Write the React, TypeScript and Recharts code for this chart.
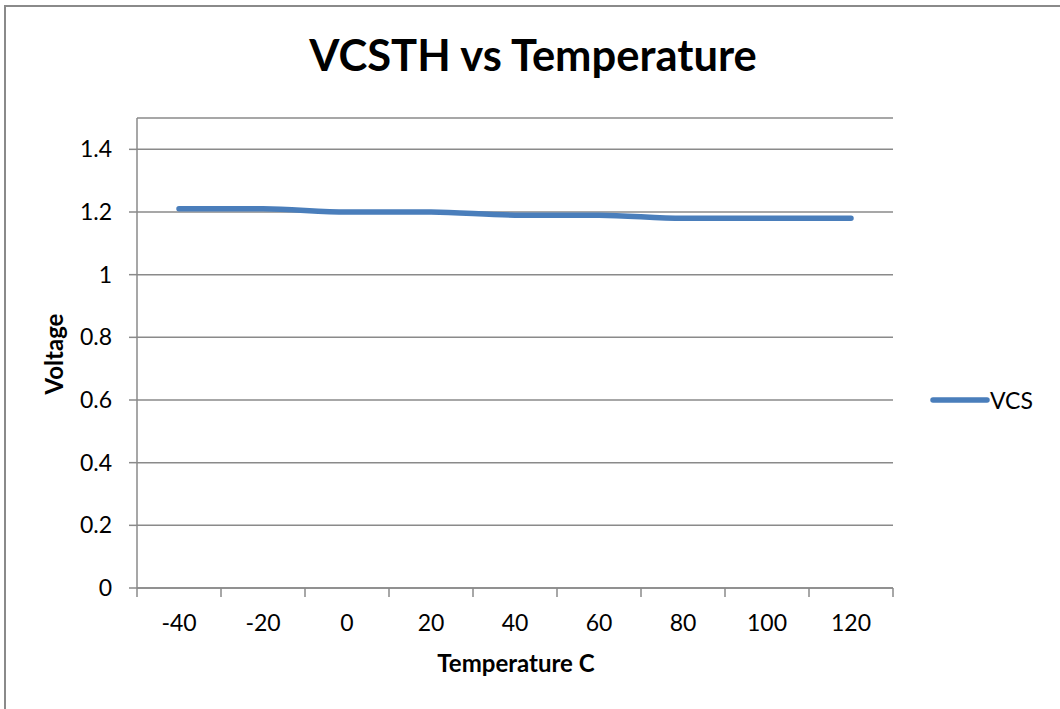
import React from 'react';
import { LineChart, Line, XAxis, YAxis, CartesianGrid, Legend } from 'recharts';

// Temperatura (°C) e tensão VCSTH
const temperatures = [-40, -20, 0, 20, 40, 60, 80, 100, 120];
const vcsValues = [1.21, 1.21, 1.2, 1.2, 1.19, 1.19, 1.18, 1.18, 1.18];
const yTicks = [0, 0.2, 0.4, 0.6, 0.8, 1, 1.2, 1.4];
// limites das categorias (marcas do eixo X ficam entre os rótulos)
const xBoundaries = [-50, -30, -10, 10, 30, 50, 70, 90, 110, 130];

const data = temperatures.map((t, i) => ({ temp: t, vcs: vcsValues[i] }));
const xTicks = [...xBoundaries, ...temperatures].sort((a, b) => a - b);

const FONT = 'Lato, "Open Sans", sans-serif';
const GRAY = '#8a8a8a';
const BLUE = '#4a7ebb';
const TICK_FONT = 23;

const XTick = (props: any) => {
  const { x, y, payload } = props;
  if (xBoundaries.includes(payload.value)) {
    return <line x1={x} x2={x} y1={y - 9} y2={y} stroke={GRAY} strokeWidth={1.5} />;
  }
  return (
    <text x={x} y={y + 34} textAnchor="middle" fontSize={TICK_FONT} fill="#000">
      {payload.value}
    </text>
  );
};

const LegendContent = () => (
  <div style={{ display: 'flex', alignItems: 'center' }}>
    <svg width={60} height={10}>
      <line x1={3} x2={57} y1={5} y2={5} stroke={BLUE} strokeWidth={5.5} strokeLinecap="round" />
    </svg>
    <span style={{ fontSize: TICK_FONT, color: '#000' }}>VCS</span>
  </div>
);

export default function App() {
  return (
    <div
      style={{
        position: 'fixed',
        left: 0,
        top: 0,
        width: 1060,
        height: 709,
        overflow: 'hidden',
        background: '#fff',
        fontFamily: FONT,
      }}
    >
      <div
        style={{
          position: 'absolute',
          left: 4,
          top: 5,
          width: 1100,
          height: 760,
          borderTop: `2px solid ${GRAY}`,
          borderLeft: `2px solid ${GRAY}`,
        }}
      />
      <div
        style={{
          position: 'absolute',
          left: 0,
          top: 28,
          width: 1066,
          textAlign: 'center',
          fontSize: 43.5,
          lineHeight: '52px',
          fontWeight: 'bold',
        }}
      >
        VCSTH vs Temperature
      </div>
      <div
        style={{
          position: 'absolute',
          left: 54 - 60,
          top: 354 - 15,
          width: 120,
          lineHeight: '30px',
          textAlign: 'center',
          fontSize: 24,
          fontWeight: 'bold',
          transform: 'rotate(-90deg)',
        }}
      >
        Voltage
      </div>
      <div
        style={{
          position: 'absolute',
          left: 516 - 150,
          top: 648,
          width: 300,
          lineHeight: '30px',
          textAlign: 'center',
          fontSize: 24,
          fontWeight: 'bold',
        }}
      >
        Temperature C
      </div>
      <div style={{ position: 'absolute', left: 0, top: 0 }}>
        <LineChart
          width={1060}
          height={709}
          data={data}
          margin={{ top: 118, right: 167, bottom: 61, left: 77 }}
        >
          <CartesianGrid horizontal vertical={false} stroke={GRAY} strokeWidth={1.5} />
          <XAxis
            dataKey="temp"
            type="number"
            domain={[-50, 130]}
            ticks={xTicks}
            interval={0}
            height={60}
            tickSize={9}
            tickMargin={0}
            tickLine={false}
            axisLine={{ stroke: GRAY, strokeWidth: 1.5 }}
            tick={<XTick />}
          />
          <YAxis
            type="number"
            domain={[0, 1.5]}
            ticks={yTicks}
            interval={0}
            width={60}
            tickSize={8}
            tickMargin={17}
            tickLine={{ stroke: GRAY, strokeWidth: 1.5 }}
            axisLine={{ stroke: GRAY, strokeWidth: 1.5 }}
            tick={{ fontSize: TICK_FONT, fill: '#000' }}
            tickFormatter={(v: number) => String(v)}
          />
          <Legend
            layout="horizontal"
            align="center"
            verticalAlign="middle"
            content={<LegendContent />}
            wrapperStyle={{ position: 'absolute', left: 930, top: 386, width: 120 }}
          />
          <Line
            type="monotone"
            dataKey="vcs"
            name="VCS"
            stroke={BLUE}
            strokeWidth={5.5}
            strokeLinecap="round"
            dot={false}
            activeDot={false}
            isAnimationActive={false}
          />
        </LineChart>
      </div>
    </div>
  );
}
